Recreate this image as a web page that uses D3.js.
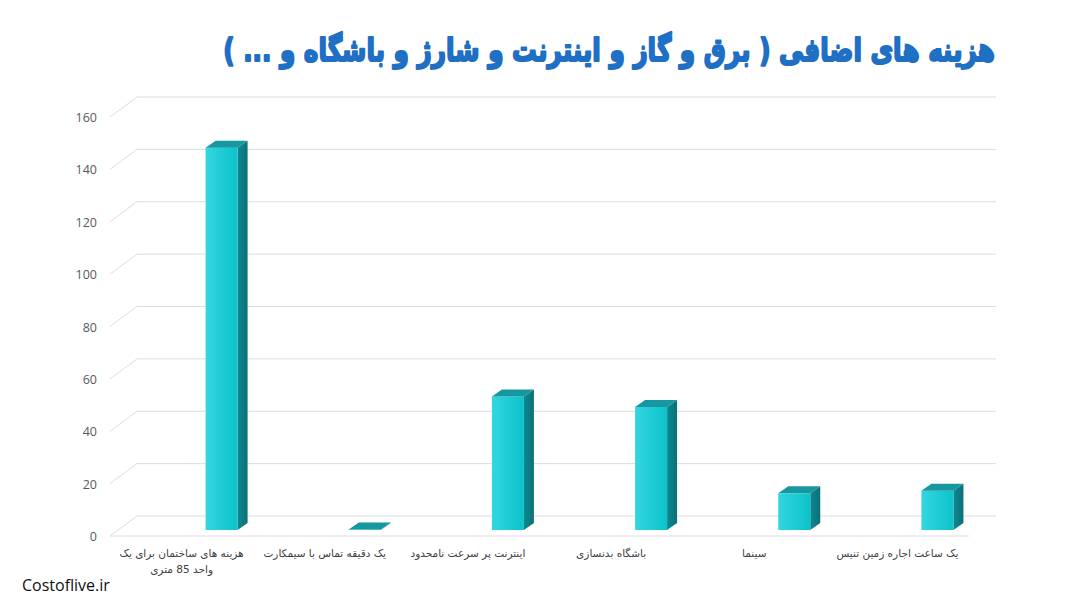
<!DOCTYPE html>
<html><head><meta charset="utf-8">
<script src="https://cdn.jsdelivr.net/npm/d3@7"></script>
<style>body{margin:0;background:#fff;overflow:hidden}</style>
</head><body>
<svg id="c" width="1080" height="607"></svg>
<script>
// ---- data ----
const categories = [
  "هزینه های ساختمان برای یک\nواحد 85 متری",
  "یک دقیقه تماس با سیمکارت",
  "اینترنت پر سرعت نامحدود",
  "باشگاه بدنسازی",
  "سینما",
  "یک ساعت اجاره زمین تنیس"
];
const values = [146, 0.2, 51, 47, 14, 15];
const yTicks = [0, 20, 40, 60, 80, 100, 120, 140, 160];
const titleText = "هزینه های اضافی ( برق و گاز و اینترنت و شارژ و باشگاه و ... )";
const sourceText = "Costoflive.ir";

// ---- layout ----
const svg = d3.select("#c");
const depth = {dx: 27, dy: -20};
const barDepth = {dx: 10, dy: -7};
const x = d3.scaleBand().domain(categories).range([110, 969]);
const y = d3.scaleLinear().domain([0, 160]).range([536, 117]);
const gridColor = "#d9dee5";

const defs = svg.append("defs");
const gFront = defs.append("linearGradient").attr("id", "gf").attr("x1", 0).attr("x2", 1).attr("y1", 0).attr("y2", 0);
gFront.append("stop").attr("offset", "0%").attr("stop-color", "#33d6e0");
gFront.append("stop").attr("offset", "100%").attr("stop-color", "#0cc2cb");
const gSide = defs.append("linearGradient").attr("id", "gs").attr("x1", 0).attr("x2", 1).attr("y1", 0).attr("y2", 0);
gSide.append("stop").attr("offset", "0%").attr("stop-color", "#0f8890");
gSide.append("stop").attr("offset", "100%").attr("stop-color", "#0a7077");

// grid
const grid = svg.append("g");
grid.selectAll(".back").data(yTicks).join("line")
  .attr("x1", 110 + depth.dx).attr("x2", 969 + depth.dx)
  .attr("y1", d => y(d) + depth.dy).attr("y2", d => y(d) + depth.dy)
  .attr("stroke", gridColor).attr("stroke-width", 1);
grid.selectAll(".diag").data(yTicks).join("line")
  .attr("x1", 110).attr("x2", 110 + depth.dx)
  .attr("y1", d => y(d)).attr("y2", d => y(d) + depth.dy)
  .attr("stroke", gridColor).attr("stroke-width", 1);
grid.append("line").attr("x1", 110).attr("x2", 969).attr("y1", y(0)).attr("y2", y(0))
  .attr("stroke", gridColor);

// y tick labels
svg.append("g").selectAll("text").data(yTicks).join("text")
  .attr("x", 97).attr("y", d => y(d) + 5)
  .attr("text-anchor", "end")
  .attr("font-family", "'Open Sans', sans-serif").attr("font-size", 12.5)
  .attr("fill", "#595959")
  .text(d => d);

// bars
const barW = 32;
const base = y(0) - 6;
const bars = svg.append("g").selectAll("g").data(categories.map((c, i) => ({c, v: values[i]}))).join("g");
bars.each(function(d) {
  const g = d3.select(this);
  const cx = x(d.c) + x.bandwidth() / 2 + 40;
  const x0 = cx - barW / 2, x1 = cx + barW / 2;
  const top = y(d.v) - 6;
  const bx = barDepth.dx, by = barDepth.dy;
  g.append("path").attr("d", `M${x1},${base}L${x1 + bx},${base + by}L${x1 + bx},${top + by}L${x1},${top}Z`)
    .attr("fill", "url(#gs)");
  g.append("rect").attr("x", x0).attr("y", top).attr("width", barW).attr("height", Math.max(0, base - top))
    .attr("fill", "url(#gf)");
  g.append("path").attr("d", `M${x0},${top}L${x0 + bx},${top + by}L${x1 + bx},${top + by}L${x1},${top}Z`)
    .attr("fill", "#17979f");
});

// x labels
const xl = svg.append("g").selectAll("text").data(categories).join("text")
  .attr("text-anchor", "middle")
  .attr("direction", "rtl")
  .attr("font-family", "'DejaVu Sans', sans-serif").attr("font-size", 10.5)
  .attr("fill", "#404040");
xl.each(function(d) {
  const lines = d.split("\n");
  const t = d3.select(this);
  lines.forEach((ln, i) => {
    t.append("tspan").attr("x", x(d) + x.bandwidth() / 2).attr("y", 557 + i * 16).text(ln);
  });
});

// title
const tg = svg.append("g").attr("transform", "translate(0,61) scale(1,1.3)");
const title = tg.append("text")
  .attr("x", 996).attr("y", 0)
  .attr("direction", "rtl")
  .attr("font-family", "'DejaVu Sans', sans-serif").attr("font-weight", "bold")
  .attr("font-size", 28)
  .attr("fill", "#1f6fc4")
  .attr("stroke", "#1f6fc4").attr("stroke-width", 1.6).attr("stroke-linejoin", "round")
  .text(titleText);
{
  const targetW = 996 - 224;
  let bb = title.node().getBBox();
  const fs = 28 * targetW / bb.width;
  title.attr("font-size", fs);
  bb = title.node().getBBox();
  title.attr("x", 996 + (995 - (bb.x + bb.width)));
}

// source
svg.append("text").attr("x", 22).attr("y", 591)
  .attr("font-family", "'Open Sans', sans-serif").attr("font-size", 16)
  .attr("fill", "#111").text(sourceText);
</script>
</body></html>
